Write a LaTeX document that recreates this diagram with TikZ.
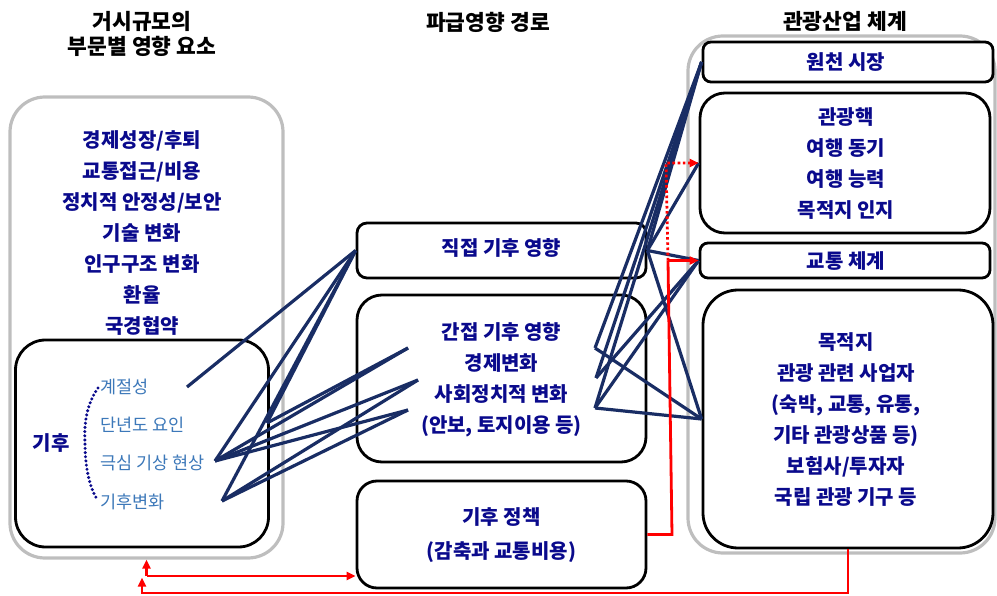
\documentclass[tikz,border=0pt]{standalone}
\usepackage{fontspec}
\setmainfont{Noto Sans CJK KR}
\usetikzlibrary{arrows.meta}
\definecolor{navytxt}{RGB}{10,10,140}
\definecolor{navyln}{RGB}{25,45,100}
\definecolor{steeltxt}{RGB}{60,120,185}
\definecolor{greyln}{RGB}{190,190,190}
\begin{document}
\begin{tikzpicture}[x=1pt,y=-1pt,
  greybox/.style={draw=greyln,line width=3.2pt,inner sep=0pt},
  blkbox/.style={draw=black,line width=2.8pt,fill=white,inner sep=0pt},
  head/.style={font=\fontsize{21.5}{25}\bfseries\selectfont,text=black,align=center},
  body/.style={font=\fontsize{20}{31}\bfseries\selectfont,text=navytxt,align=center},
  item/.style={font=\fontsize{17.5}{20}\selectfont,text=steeltxt,anchor=west,inner sep=0pt},
  conn/.style={draw=navyln,line width=3.2pt},
  redln/.style={draw=red,line width=2.8pt},
  tip/.style={-{Triangle[length=9pt,width=8pt]}}
]
\useasboundingbox (0,0) rectangle (997,596);

% headers
\node[head] (h1) at (142,33.5) {거시규모의\\부문별 영향 요소};
\node[head] (h2) at (488,22) {파급영향 경로};
\node[head] (h3) at (845,21) {관광산업 체계};

% left grey box and climate box
\node[greybox,rounded corners=35pt,minimum width=273pt,minimum height=461pt] (leftg) at (146.5,327.5) {};
\node[body] (macro) at (142,233) {경제성장/후퇴\\교통접근/비용\\정치적 안정성/보안\\기술 변화\\인구구조 변화\\환율\\국경협약};
\node[blkbox,rounded corners=30pt,minimum width=253pt,minimum height=207pt] (clim) at (142,443.5) {};
\node[font=\fontsize{20}{20}\bfseries\selectfont,text=navytxt] (kihu) at (51,443) {기후};
\draw[navytxt,line width=3.4pt,dash pattern=on 0pt off 4.2pt,line cap=round]
  (98,388) .. controls (86,405) and (84,425) .. (85,443) .. controls (85,462) and (88,485) .. (97,499);
\node[item] (c1) at (100,387) {계절성};
\node[item] (c2) at (100,425) {단년도 요인};
\node[item] (c3) at (100,463) {극심 기상 현상};
\node[item] (c4) at (100,502) {기후변화};

% right grey box
\node[greybox,rounded corners=35pt,minimum width=307pt,minimum height=517pt] (rightg) at (841.5,294.5) {};

% middle boxes
\node[blkbox,rounded corners=10pt,minimum width=289pt,minimum height=55pt] (b1) at (501.5,250.5) {};
\node[body] (t1) at (501.5,248) {직접 기후 영향};
\node[blkbox,rounded corners=25pt,minimum width=289pt,minimum height=167pt] (b2) at (501.5,378.5) {};
\node[body] (t2) at (501.5,379.5) {간접 기후 영향\\경제변화\\사회정치적 변화\\(안보, 토지이용 등)};
\node[blkbox,rounded corners=20pt,minimum width=289pt,minimum height=107pt] (b3) at (501.5,534.5) {};
\node[body,font=\fontsize{20}{34}\bfseries\selectfont] (t3) at (501.5,535) {기후 정책\\(감축과 교통비용)};

% right boxes
\node[blkbox,rounded corners=8pt,minimum width=290pt,minimum height=40pt] (r1) at (848,62) {};
\node[body] (rt1) at (846,62) {원천 시장};
\node[blkbox,rounded corners=25pt,minimum width=290pt,minimum height=140pt] (r2) at (845,163) {};
\node[body] (rt2) at (846,163.5) {관광핵\\여행 동기\\여행 능력\\목적지 인지};
\node[blkbox,rounded corners=8pt,minimum width=290pt,minimum height=35pt] (r3) at (845,260.5) {};
\node[body] (rt3) at (846,261) {교통 체계};
\node[blkbox,rounded corners=35pt,minimum width=290pt,minimum height=258pt] (r4) at (848,419) {};
\node[body] (rt4) at (846,420) {목적지\\관광 관련 사업자\\(숙박, 교통, 유통,\\기타 관광상품 등)\\보험사/투자자\\국립 관광 기구 등};

% connector end points
\coordinate (B) at (187,387);
\coordinate (C) at (215,461);
\coordinate (D) at (222,501);
\coordinate (E) at (267,423);
\coordinate (F) at (408,348);
\coordinate (G) at (418,380);
\coordinate (H) at (408,410);
\coordinate (Q1) at (595,348);
\coordinate (Q2) at (596,378);
\coordinate (Q3) at (595,408);

% left tangle
\draw[conn] (B) -- (b1.west);
\draw[conn] (C) -- (b1.west);
\draw[conn] (D) -- (b1.west);
\draw[conn] (E) -- (b1.west);
\draw[conn] (E) -- (F);
\draw[conn] (C) -- (F);
\draw[conn] (C) -- (G);
\draw[conn] (C) -- (H);
\draw[conn] (D) -- (G);
\draw[conn] (D) -- (H);

% right tangle
\draw[conn] (Q1) -- (r1.west);
\draw[conn] (Q2) -- (r1.west);
\draw[conn] (Q3) -- (r1.west);
\draw[conn] (b1.east) -- (r1.west);
\draw[conn] (b1.east) -- (r2.west);
\draw[conn] (b1.east) -- (r3.west);
\draw[conn] (b1.east) -- (r4.west);
\draw[conn] (Q1) -- (r4.west);
\draw[conn] (Q3) -- (r4.west);
\draw[conn] (Q3) -- (r3.west);
\draw[conn] (Q2) -- (r3.west);

% red connectors
\coordinate (rj) at (668,260.5);
\draw[redln] (b3.east) -- (672,534.5) -- (rj);
\draw[redln,tip] (rj) -- (r3.west);
\draw[redln,tip,dash pattern=on 2.6pt off 2.6pt] (rj) -- (666,163) -- (r2.west);
\coordinate (lj) at (146.5,576);
\draw[redln,tip] (r4.south) -- (848,593) -- (142,593) -- (142,577.5);
\draw[redln,tip] (lj) -- (leftg.south);
\draw[redln,tip] (lj) -- (b3.west |- lj);
\end{tikzpicture}
\end{document}
